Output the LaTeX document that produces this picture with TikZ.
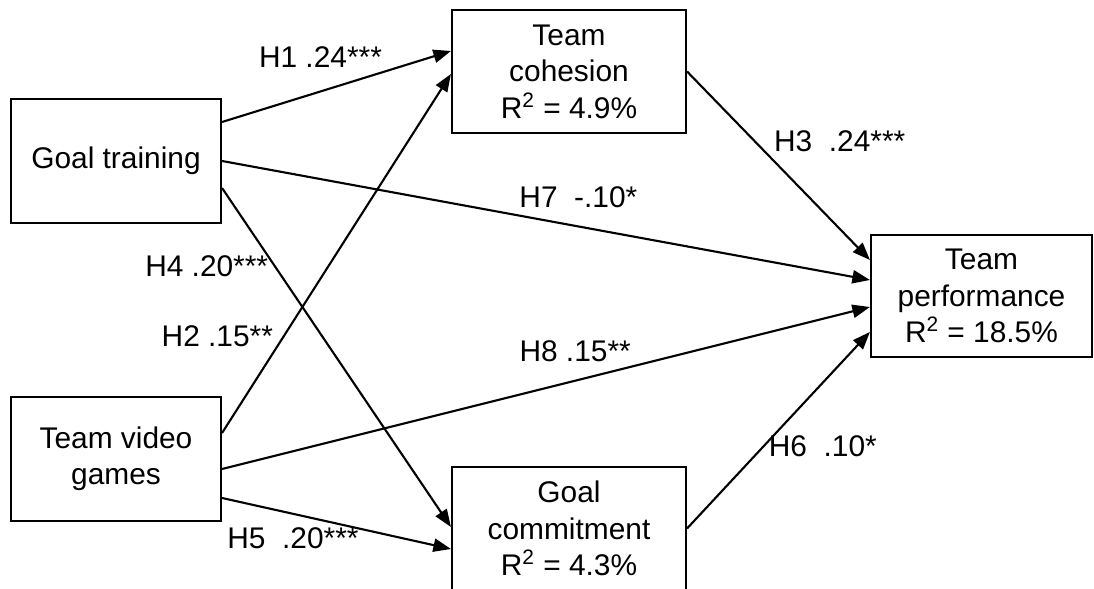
\documentclass[tikz,border=0pt]{standalone}
\usepackage{fontspec}
\setmainfont{Liberation Sans}
\usetikzlibrary{arrows.meta}
\tikzset{
  var/.style={draw, line width=1.2pt, inner sep=0pt, align=center},
  hyp/.style={line width=1.2pt, -{Triangle[length=10pt,width=7.5pt]}},
  lbl/.style={inner sep=0pt, anchor=center}
}
\begin{document}
\fontsize{17}{20.8}\selectfont
\begin{tikzpicture}
        \useasboundingbox (0,0) rectangle (21.88,11.78);
        \node[var, minimum width=4.2cm, minimum height=2.48cm] (GT) at (2.32,8.56) {Goal training};
        \node[var, minimum width=4.2cm, minimum height=2.48cm] (TVG) at (2.32,2.60) {Team video\\games};
        \node[var, minimum width=4.68cm, minimum height=2.46cm] (TC) at (11.38,10.35) {Team\\cohesion\\R\textsuperscript{2} = 4.9\%};
        \node[var, minimum width=4.68cm, minimum height=2.46cm] (GC) at (11.38,1.21) {Goal\\commitment\\R\textsuperscript{2} = 4.3\%};
        \node[var, minimum width=4.42cm, minimum height=2.44cm] (TP) at (19.63,5.86) {Team\\performance\\R\textsuperscript{2} = 18.5\%};
        \draw[hyp] ([yshift=0.78cm]GT.east) -- node[lbl, pos=0.43, yshift=0.69cm] {H1 .24***} ([yshift=0.41cm]TC.west);
        \draw[hyp] ([yshift=0.52cm]TVG.east) -- node[lbl, pos=0.27, xshift=-1.33cm] {H2 .15**} ([yshift=-0.05cm]TC.west);
        \draw[hyp] (TC.east) -- node[lbl, pos=0.37, xshift=1.7cm] {H3~ .24***} ([yshift=0.72cm]TP.west);
        \draw[hyp] ([yshift=-0.54cm]GT.east) -- node[lbl, pos=0.23, xshift=-1.36cm] {H4 .20***} ([yshift=0.03cm]GC.west);
        \draw[hyp] ([yshift=-0.78cm]TVG.east) -- node[lbl, pos=0.31, yshift=-0.48cm] {H5~ .20***} ([yshift=-0.41cm]GC.west);
        \draw[hyp] (GC.east) -- node[lbl, pos=0.42, xshift=1.18cm] {H6~ .10*} ([yshift=-0.72cm]TP.west);
        \draw[hyp] (GT.east) -- node[lbl, pos=0.55, yshift=0.58cm] {H7~ -.10*} ([yshift=0.32cm]TP.west);
        \draw[hyp] ([yshift=-0.2cm]TVG.east) -- node[lbl, pos=0.545, yshift=0.59cm] {H8 .15**} ([yshift=-0.22cm]TP.west);
      \end{tikzpicture}
\end{document}
